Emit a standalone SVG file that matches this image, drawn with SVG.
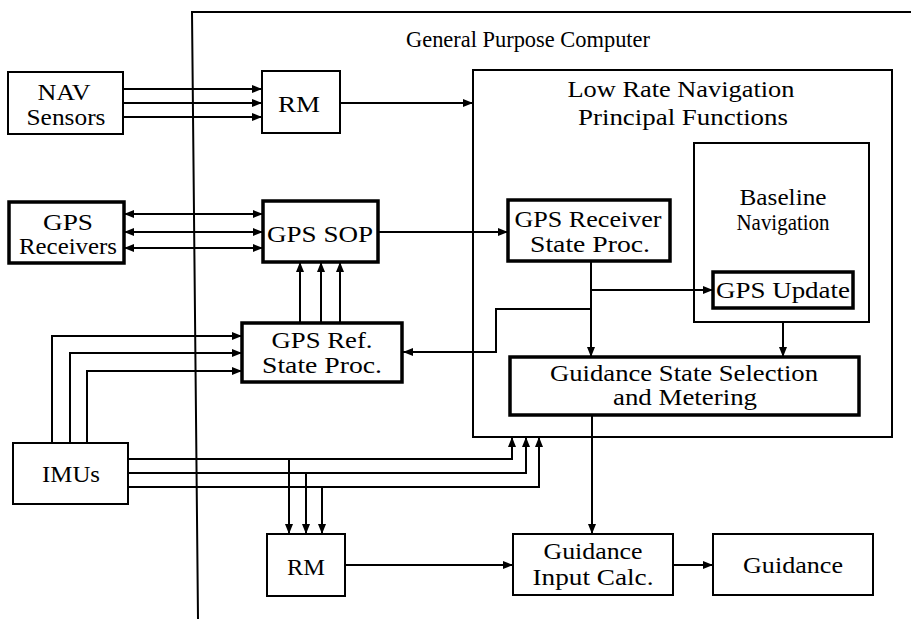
<svg xmlns="http://www.w3.org/2000/svg" width="911" height="619" viewBox="0 0 911 619" font-family="Liberation Serif, Times New Roman, DejaVu Serif, serif">
<style>
text{font-family:Liberation Serif,Times New Roman,DejaVu Serif,serif;font-size:23px;fill:#000;text-anchor:middle}
.b{fill:#fff;stroke:#000;stroke-width:2}
.t{fill:#fff;stroke:#000;stroke-width:3.5}
.c{fill:none;stroke:#000;stroke-width:2}
</style>
<defs>
<marker id="ah" viewBox="0 0 10 8" refX="10" refY="4" markerWidth="10" markerHeight="8" markerUnits="userSpaceOnUse" orient="auto-start-reverse"><path d="M0,0L10,4L0,8z" fill="#000"/></marker>
</defs>
<g id="gpc">
<path class="c" d="M911,12H192L198,619"/>
<text x="528" y="47" textLength="244" lengthAdjust="spacingAndGlyphs">General Purpose Computer</text>
</g>
<g id="lowrate">
<rect class="b" x="473" y="70" width="419" height="367"/>
<text x="681" y="97" textLength="227" lengthAdjust="spacingAndGlyphs">Low Rate Navigation</text>
<text x="683" y="125" textLength="210" lengthAdjust="spacingAndGlyphs">Principal Functions</text>
</g>
<g id="baseline">
<rect class="b" x="694" y="143" width="175" height="179"/>
<text x="783" y="205" textLength="87" lengthAdjust="spacingAndGlyphs">Baseline</text>
<text x="783" y="230" textLength="93" lengthAdjust="spacingAndGlyphs">Navigation</text>
</g>
<g id="connectors">
<path class="c" d="M123,89H262" marker-end="url(#ah)"/>
<path class="c" d="M123,103H262" marker-end="url(#ah)"/>
<path class="c" d="M123,117H262" marker-end="url(#ah)"/>
<path class="c" d="M340,103H473" marker-end="url(#ah)"/>
<path class="c" d="M124,214H263" marker-start="url(#ah)" marker-end="url(#ah)"/>
<path class="c" d="M124,232H263" marker-start="url(#ah)" marker-end="url(#ah)"/>
<path class="c" d="M124,248H263" marker-start="url(#ah)" marker-end="url(#ah)"/>
<path class="c" d="M378,232H508" marker-end="url(#ah)"/>
<path class="c" d="M300,323V262" marker-end="url(#ah)"/>
<path class="c" d="M321,323V262" marker-end="url(#ah)"/>
<path class="c" d="M340,323V262" marker-end="url(#ah)"/>
<path class="c" d="M52,443V336H242" marker-end="url(#ah)"/>
<path class="c" d="M70,443V353H242" marker-end="url(#ah)"/>
<path class="c" d="M87,443V371H242" marker-end="url(#ah)"/>
<path class="c" d="M591,262V357" marker-end="url(#ah)"/>
<path class="c" d="M591,290H713" marker-end="url(#ah)"/>
<path class="c" d="M591,309H496V352H403" marker-end="url(#ah)"/>
<path class="c" d="M783,322V357" marker-end="url(#ah)"/>
<path class="c" d="M592,415V534" marker-end="url(#ah)"/>
<path class="c" d="M128,459H512V437" marker-end="url(#ah)"/>
<path class="c" d="M128,473H526V437" marker-end="url(#ah)"/>
<path class="c" d="M128,487H539V437" marker-end="url(#ah)"/>
<path class="c" d="M289,459V534" marker-end="url(#ah)"/>
<path class="c" d="M306,473V534" marker-end="url(#ah)"/>
<path class="c" d="M322,487V534" marker-end="url(#ah)"/>
<path class="c" d="M345,565H513" marker-end="url(#ah)"/>
<path class="c" d="M673,565H713" marker-end="url(#ah)"/>
</g>
<g id="nav">
<rect class="b" x="8" y="72" width="115" height="62"/>
<text x="64" y="100" textLength="53" lengthAdjust="spacingAndGlyphs">NAV</text>
<text x="66" y="125" textLength="79" lengthAdjust="spacingAndGlyphs">Sensors</text>
</g>
<g id="rm1">
<rect class="b" x="262" y="71" width="78" height="62"/>
<text x="299" y="112" textLength="42" lengthAdjust="spacingAndGlyphs">RM</text>
</g>
<g id="gpsrx">
<rect class="t" x="9" y="202" width="115" height="61"/>
<text x="68" y="230" textLength="50" lengthAdjust="spacingAndGlyphs">GPS</text>
<text x="68" y="254" textLength="98" lengthAdjust="spacingAndGlyphs">Receivers</text>
</g>
<g id="gpssop">
<rect class="t" x="263" y="201" width="115" height="61"/>
<text x="320" y="242" textLength="106" lengthAdjust="spacingAndGlyphs">GPS SOP</text>
</g>
<g id="gpsref">
<rect class="t" x="242" y="323" width="160" height="59"/>
<text x="322" y="348" textLength="101" lengthAdjust="spacingAndGlyphs">GPS Ref.</text>
<text x="322" y="373" textLength="120" lengthAdjust="spacingAndGlyphs">State Proc.</text>
</g>
<g id="gpsrsp">
<rect class="t" x="508" y="200" width="162" height="61"/>
<text x="588" y="227" textLength="147" lengthAdjust="spacingAndGlyphs">GPS Receiver</text>
<text x="590" y="252" textLength="120" lengthAdjust="spacingAndGlyphs">State Proc.</text>
</g>
<g id="gpsupd">
<rect class="t" x="713" y="272" width="140" height="36"/>
<text x="783" y="298" textLength="134" lengthAdjust="spacingAndGlyphs">GPS Update</text>
</g>
<g id="gss">
<rect class="t" x="510" y="357" width="349" height="58"/>
<text x="684" y="381" textLength="268" lengthAdjust="spacingAndGlyphs">Guidance State Selection</text>
<text x="685" y="405" textLength="144" lengthAdjust="spacingAndGlyphs">and Metering</text>
</g>
<g id="imus">
<rect class="b" x="13" y="443" width="115" height="61"/>
<text x="71" y="482" textLength="58" lengthAdjust="spacingAndGlyphs">IMUs</text>
</g>
<g id="rm2">
<rect class="b" x="267" y="534" width="78" height="62"/>
<text x="306" y="575" textLength="38" lengthAdjust="spacingAndGlyphs">RM</text>
</g>
<g id="gic">
<rect class="b" x="513" y="534" width="160" height="61"/>
<text x="593" y="559" textLength="99" lengthAdjust="spacingAndGlyphs">Guidance</text>
<text x="593" y="585" textLength="121" lengthAdjust="spacingAndGlyphs">Input Calc.</text>
</g>
<g id="guidance">
<rect class="b" x="713" y="534" width="160" height="61"/>
<text x="793" y="573" textLength="100" lengthAdjust="spacingAndGlyphs">Guidance</text>
</g>
</svg>
